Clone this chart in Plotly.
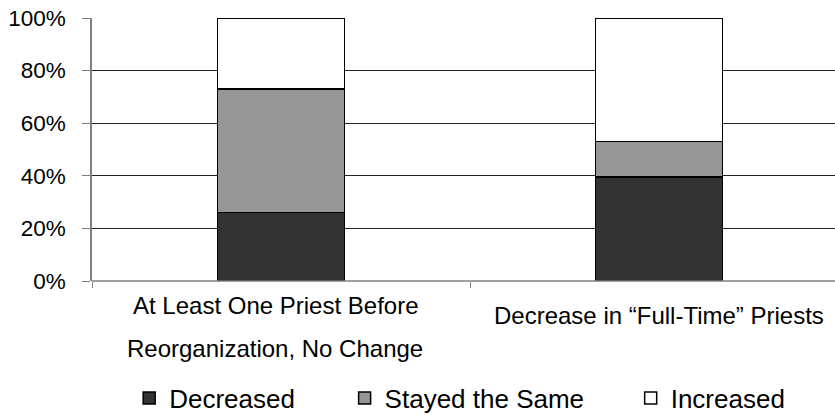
import plotly.graph_objects as go

categories = ["At Least One Priest Before<br>Reorganization, No Change", "Decrease in “Full-Time” Priests"]
series_names = ["Decreased", "Stayed the Same", "Increased"]
decreased = [26, 39.5]
stayed = [47, 13.5]
increased = [27, 47]
y_ticks = [0, 20, 40, 60, 80, 100]
y_tick_labels = ["0%", "20%", "40%", "60%", "80%", "100%"]

colors = ["#333333", "#969696", "#ffffff"]
FONT = "Liberation Sans, Arial, sans-serif"

W, H = 835, 415
ML, MR, MT, MB = 92, 0, 18, 134
plot_w = W - ML - MR
cat_w = 378.0
x_end = -0.5 + plot_w / cat_w

legend_x = [0.050, 0.340, 0.725]
legend_keys = ["legend", "legend2", "legend3"]

xs = list(range(len(categories)))
fig = go.Figure()
for name, vals, col, lk in zip(series_names, [decreased, stayed, increased], colors, legend_keys):
    fig.add_trace(go.Bar(
        x=xs, y=vals, name=name, width=0.336, legend=lk,
        marker=dict(color=col, line=dict(color="#000000", width=1.5)),
    ))

# category labels as annotations (large line spacing)
line_gap = 0.162
for i, lab in enumerate(categories):
    lines = lab.split("<br>")
    n = len(lines)
    center = -0.176 if n > 1 else -0.133
    for j, ln in enumerate(lines):
        yy = center + (n - 1) / 2 * line_gap - j * line_gap
        fig.add_annotation(
            x=i, y=yy, xref="x", yref="paper", text=ln, showarrow=False,
            xanchor="center", yanchor="middle", xshift=-6 if n > 1 else 0,
            font=dict(family=FONT, size=24, color="#000000"),
        )

leg_common = dict(
    orientation="h", xanchor="left", y=-0.445, yanchor="middle",
    font=dict(family=FONT, size=26, color="#000000"),
    itemclick=False, itemdoubleclick=False, bgcolor="rgba(0,0,0,0)",
)

fig.update_layout(
    width=W, height=H,
    margin=dict(l=ML, r=MR, t=MT, b=MB, pad=0, autoexpand=False),
    barmode="stack",
    plot_bgcolor="#ffffff", paper_bgcolor="#ffffff",
    font=dict(family=FONT, size=22, color="#000000"),
    showlegend=True,
    legend=dict(x=legend_x[0], **leg_common),
    legend2=dict(x=legend_x[1], **leg_common),
    legend3=dict(x=legend_x[2], **leg_common),
    xaxis=dict(
        range=[-0.5, x_end], tickvals=[-0.5, 0.5, 1.5], showticklabels=False,
        ticks="outside", ticklen=6, tickcolor="#808080", tickwidth=1,
        showgrid=False, zeroline=False, showline=False, automargin=False,
    ),
    yaxis=dict(
        range=[0, 100], tickvals=y_ticks, ticktext=y_tick_labels,
        ticks="outside", ticklen=8, tickcolor="#808080", tickwidth=1,
        ticklabelstandoff=12, automargin=False, ticklabeloverflow="allow",
        showgrid=True, gridcolor="#222222", gridwidth=1,
        zeroline=False, showline=True, linecolor="#808080", linewidth=1.5,
        tickfont=dict(family=FONT, size=22.5, color="#000000"),
    ),
)
fig.add_shape(type="line", xref="paper", yref="paper", x0=0, x1=1, y0=0, y1=0,
              line=dict(color="#808080", width=1.5), layer="above")

fig.write_html("out.html", config={"displayModeBar": False},
               post_script="document.body.style.margin='0';")
